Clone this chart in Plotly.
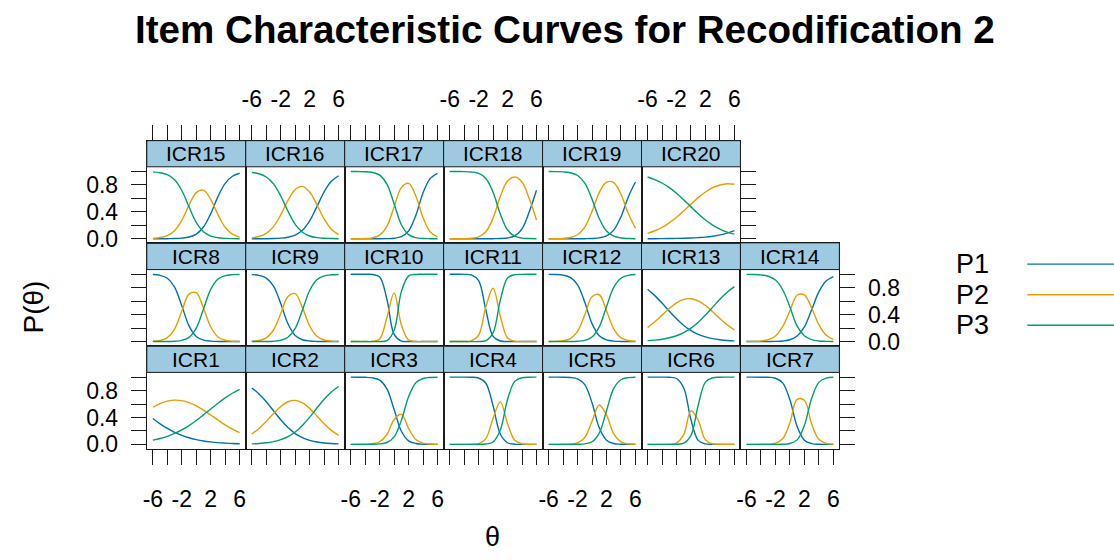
import plotly.graph_objects as go

# ---------------- data ----------------
theta = [-6, -5, -4, -3, -2, -1, 0, 1, 2, 3, 4, 5, 6]

ICR1_P1 = [.385, .306, .237, .180, .134, .098, .071, .051, .037, .026, .019, .013, .009]
ICR1_P2 = [.552, .607, .643, .658, .651, .622, .574, .510, .437, .362, .290, .227, .173]
ICR1_P3 = [.063, .087, .120, .162, .215, .280, .355, .439, .526, .612, .691, .760, .818]

ICR2_P1 = [.839, .750, .634, .500, .366, .250, .161, .100, .060, .036, .021, .012, .007]
ICR2_P2 = [.153, .236, .342, .458, .564, .634, .654, .618, .535, .423, .307, .208, .133]
ICR2_P3 = [.008, .014, .024, .042, .070, .116, .185, .282, .405, .541, .672, .780, .860]

ICR3_P1 = [1.0, .999, .997, .989, .954, .825, .518, .196, .053, .013, .003, .001, .000]
ICR3_P2 = [.000, .001, .003, .010, .039, .147, .370, .447, .238, .072, .018, .004, .001]
ICR3_P3 = [.000, .000, .000, .001, .007, .028, .112, .357, .709, .915, .979, .995, .999]

ICR4_P1 = [1.0, 1.0, 1.0, .998, .987, .909, .574, .154, .024, .003, .000, .000, .000]
ICR4_P2 = [.000, .000, .000, .002, .012, .086, .390, .632, .308, .060, .009, .001, .000]
ICR4_P3 = [.000, .000, .000, .000, .001, .005, .036, .214, .668, .937, .991, .999, 1.0]

ICR5_P1 = [1.0, 1.0, .999, .995, .975, .889, .618, .246, .062, .013, .003, .001, .000]
ICR5_P2 = [.000, .000, .001, .005, .023, .103, .343, .586, .438, .155, .036, .007, .002]
ICR5_P3 = [.000, .000, .000, .000, .002, .008, .039, .168, .500, .832, .961, .992, .998]

ICR6_P1 = [1.0, 1.0, 1.0, .998, .979, .839, .366, .060, .007, .001, .000, .000, .000]
ICR6_P2 = [.000, .000, .000, .002, .019, .144, .500, .358, .067, .008, .001, .000, .000]
ICR6_P3 = [.000, .000, .000, .000, .002, .017, .134, .582, .926, .991, .999, 1.0, 1.0]

ICR7_P1 = [1.0, 1.0, .999, .997, .983, .915, .664, .265, .062, .012, .002, .000, .000]
ICR7_P2 = [.000, .000, .001, .003, .017, .083, .323, .668, .657, .305, .076, .015, .003]
ICR7_P3 = [.000, .000, .000, .000, .000, .002, .013, .067, .281, .683, .922, .985, .997]

ICR8_P1 = [.996, .984, .941, .810, .532, .233, .075, .021, .006, .002, .000, .000, .000]
ICR8_P2 = [.004, .016, .058, .185, .451, .705, .726, .495, .217, .069, .020, .005, .001]
ICR8_P3 = [.000, .000, .001, .005, .017, .062, .199, .484, .777, .929, .980, .995, .999]

ICR9_P1 = [.995, .984, .944, .823, .565, .265, .091, .027, .008, .002, .000, .000, .000]
ICR9_P2 = [.005, .016, .055, .172, .416, .671, .713, .505, .232, .079, .024, .007, .002]
ICR9_P3 = [.000, .000, .001, .005, .019, .064, .196, .468, .760, .919, .976, .993, .998]

ICR10_P1 = [1.0, 1.0, 1.0, .997, .960, .629, .107, .008, .001, .000, .000, .000, .000]
ICR10_P2 = [.000, .000, .000, .003, .039, .357, .724, .249, .023, .002, .000, .000, .000]
ICR10_P3 = [.000, .000, .000, .000, .001, .014, .169, .743, .976, .998, 1.0, 1.0, 1.0]

ICR11_P1 = [1.0, 1.0, .999, .990, .905, .470, .077, .008, .001, .000, .000, .000, .000]
ICR11_P2 = [.000, .000, .001, .010, .094, .516, .793, .377, .054, .005, .001, .000, .000]
ICR11_P3 = [.000, .000, .000, .000, .001, .014, .130, .615, .945, .995, .999, 1.0, 1.0]

ICR12_P1 = [.999, .997, .988, .954, .844, .584, .267, .086, .024, .006, .002, .000, .000]
ICR12_P2 = [.001, .003, .012, .045, .151, .398, .666, .696, .459, .189, .057, .016, .004]
ICR12_P3 = [.000, .000, .000, .001, .005, .018, .067, .218, .517, .805, .941, .984, .996]

ICR13_P1 = [.777, .683, .572, .452, .338, .240, .164, .108, .070, .044, .028, .017, .011]
ICR13_P2 = [.209, .295, .393, .492, .575, .627, .637, .605, .536, .444, .343, .250, .173]
ICR13_P3 = [.014, .022, .035, .056, .087, .133, .199, .287, .394, .512, .629, .733, .816]

ICR14_P1 = [.000, .000, .000, .001, .003, .009, .027, .082, .219, .471, .738, .899, .966]
ICR14_P2 = [.001, .003, .009, .028, .083, .221, .458, .688, .695, .500, .253, .098, .033]
ICR14_P3 = [.999, .997, .991, .971, .914, .770, .515, .230, .086, .029, .009, .003, .001]

ICR15_P1 = [.000, .000, .001, .003, .010, .026, .070, .175, .374, .626, .824, .929, .974]
ICR15_P2 = [.006, .018, .047, .120, .273, .499, .686, .722, .586, .359, .171, .069, .025]
ICR15_P3 = [.994, .982, .952, .877, .717, .475, .244, .103, .040, .015, .005, .002, .001]

ICR16_P1 = [.000, .001, .001, .003, .009, .022, .053, .125, .265, .477, .698, .854, .937]
ICR16_P2 = [.014, .033, .081, .181, .355, .569, .733, .778, .694, .507, .295, .143, .062]
ICR16_P3 = [.986, .966, .918, .816, .636, .409, .214, .097, .041, .016, .007, .003, .001]

ICR17_P1 = [.000, .000, .000, .000, .000, .002, .008, .031, .116, .348, .684, .898, .973]
ICR17_P2 = [.000, .001, .003, .014, .054, .185, .475, .760, .823, .636, .312, .101, .027]
ICR17_P3 = [1.0, .999, .997, .986, .946, .813, .517, .209, .061, .016, .004, .001, .000]

ICR18_P1 = [.000, .000, .000, .000, .000, .000, .001, .003, .011, .043, .147, .400, .720]
ICR18_P2 = [.000, .001, .002, .008, .029, .103, .307, .629, .858, .919, .843, .597, .279]
ICR18_P3 = [1.0, .999, .998, .992, .971, .897, .692, .368, .131, .038, .010, .003, .001]

ICR19_P1 = [.000, .000, .000, .000, .000, .001, .004, .013, .042, .128, .327, .618, .843]
ICR19_P2 = [.001, .002, .006, .019, .060, .173, .407, .686, .843, .834, .661, .378, .156]
ICR19_P3 = [.999, .998, .994, .981, .940, .826, .589, .301, .115, .038, .012, .004, .001]

ICR20_P1 = [.001, .001, .002, .003, .005, .007, .011, .017, .025, .038, .057, .084, .122]
ICR20_P2 = [.081, .119, .169, .237, .319, .415, .515, .611, .695, .759, .799, .817, .810]
ICR20_P3 = [.918, .880, .829, .760, .676, .578, .474, .372, .280, .203, .144, .099, .068]

x_tick_vals = [-6, -4, -2, 0, 2, 4, 6]
x_tick_text = ["-6", "", "-2", "", "2", "", "6"]
y_tick_vals = [0, 0.2, 0.4, 0.6, 0.8, 1.0]
y_tick_text = ["0.0", "", "0.4", "", "0.8", ""]
categories = ["P1", "P2", "P3"]

# panel arrangement: rows top->bottom
panel_rows = [
    ["ICR15", "ICR16", "ICR17", "ICR18", "ICR19", "ICR20"],
    ["ICR8", "ICR9", "ICR10", "ICR11", "ICR12", "ICR13", "ICR14"],
    ["ICR1", "ICR2", "ICR3", "ICR4", "ICR5", "ICR6", "ICR7"],
]

series = {
    "ICR1": (ICR1_P1, ICR1_P2, ICR1_P3), "ICR2": (ICR2_P1, ICR2_P2, ICR2_P3),
    "ICR3": (ICR3_P1, ICR3_P2, ICR3_P3), "ICR4": (ICR4_P1, ICR4_P2, ICR4_P3),
    "ICR5": (ICR5_P1, ICR5_P2, ICR5_P3), "ICR6": (ICR6_P1, ICR6_P2, ICR6_P3),
    "ICR7": (ICR7_P1, ICR7_P2, ICR7_P3), "ICR8": (ICR8_P1, ICR8_P2, ICR8_P3),
    "ICR9": (ICR9_P1, ICR9_P2, ICR9_P3), "ICR10": (ICR10_P1, ICR10_P2, ICR10_P3),
    "ICR11": (ICR11_P1, ICR11_P2, ICR11_P3), "ICR12": (ICR12_P1, ICR12_P2, ICR12_P3),
    "ICR13": (ICR13_P1, ICR13_P2, ICR13_P3), "ICR14": (ICR14_P1, ICR14_P2, ICR14_P3),
    "ICR15": (ICR15_P1, ICR15_P2, ICR15_P3), "ICR16": (ICR16_P1, ICR16_P2, ICR16_P3),
    "ICR17": (ICR17_P1, ICR17_P2, ICR17_P3), "ICR18": (ICR18_P1, ICR18_P2, ICR18_P3),
    "ICR19": (ICR19_P1, ICR19_P2, ICR19_P3), "ICR20": (ICR20_P1, ICR20_P2, ICR20_P3),
}

# ---------------- styling / geometry ----------------
W, H = 1114, 560
FONT = "Liberation Sans, Arial, Helvetica, sans-serif"
COLORS = ["#0072B2", "#E69F00", "#009E73"]
STRIP = "#9ECAE1"
EDGE = "#1a1a1a"

LEFT, COLW = 143.3, 99.3
TOP, ROWH = 142.7, 104.3
STRIPH, PLOTH = 26.5, 77.8
XR = [-6.84, 6.84]
Y_LO, Y_HI = -0.07, 1.07
Y_TOP = Y_HI + STRIPH * (Y_HI - Y_LO) / PLOTH

fig = go.Figure()
layout = dict(shapes=[], annotations=[])

n = 0
for r, row in enumerate(panel_rows):
    ncols = len(row)
    for c, item in enumerate(row):
        n += 1
        xs = "" if n == 1 else str(n)
        xname, yname = "x" + xs, "y" + xs
        x0 = LEFT + COLW * c
        y0 = TOP + ROWH * r
        xdom = [x0 / W, (x0 + COLW) / W]
        ydom = [1 - (y0 + ROWH) / H, 1 - y0 / H]

        for k, vals in enumerate(series[item]):
            fig.add_trace(go.Scatter(
                x=theta, y=vals, mode="lines", xaxis=xname, yaxis=yname,
                line=dict(color=COLORS[k], width=1.4, shape="spline"),
                name=categories[k], showlegend=False, hoverinfo="skip"))

        xa = dict(domain=xdom, range=XR, anchor=yname, showgrid=False, zeroline=False,
                  showline=True, mirror=True, linecolor=EDGE, linewidth=1,
                  fixedrange=True, tickfont=dict(family=FONT, size=23, color="black"))
        if r == 0:
            xa.update(side="top", ticks="outside", ticklen=15, tickcolor=EDGE, tickwidth=1,
                      tickvals=x_tick_vals, ticktext=x_tick_text,
                      showticklabels=(c % 2 == 1), ticklabelstandoff=8)
        elif r == 2:
            xa.update(side="bottom", ticks="outside", ticklen=15, tickcolor=EDGE, tickwidth=1,
                      tickvals=x_tick_vals, ticktext=x_tick_text,
                      showticklabels=(c % 2 == 0), ticklabelstandoff=14)
        else:
            xa.update(ticks="", showticklabels=False)

        ya = dict(domain=ydom, range=[Y_LO, Y_TOP], anchor=xname, showgrid=False, zeroline=False,
                  showline=True, mirror=True, linecolor=EDGE, linewidth=1,
                  fixedrange=True, tickfont=dict(family=FONT, size=23, color="black"))
        if c == 0 or c == ncols - 1:
            ya.update(side="left" if c == 0 else "right", ticks="outside", ticklen=15,
                      tickcolor=EDGE, tickwidth=1, tickvals=y_tick_vals, ticktext=y_tick_text,
                      showticklabels=((c == 0 and r != 1) or (c == ncols - 1 and r == 1)),
                      ticklabelstandoff=8)
        else:
            ya.update(ticks="", showticklabels=False)

        layout["xaxis" + xs] = xa
        layout["yaxis" + xs] = ya

        layout["shapes"].append(dict(
            type="rect", xref=xname + " domain", x0=0, x1=1, yref=yname,
            y0=Y_HI, y1=Y_TOP, fillcolor=STRIP, line=dict(color=EDGE, width=1), layer="above"))
        layout["annotations"].append(dict(
            xref=xname + " domain", x=0.5, yref=yname, y=(Y_HI + Y_TOP) / 2,
            text=item, showarrow=False, xanchor="center", yanchor="middle",
            font=dict(family=FONT, size=21, color="black")))

# title and axis titles
layout["annotations"].append(dict(
    xref="paper", yref="paper", x=563 / W, y=1 - 30 / H, text="<b>Item Characteristic Curves for Recodification 2</b>",
    showarrow=False, xanchor="center", yanchor="middle", font=dict(family=FONT, size=38.6, color="black")))
layout["annotations"].append(dict(
    xref="paper", yref="paper", x=30 / W, y=1 - 311 / H, text="P(θ)", textangle=-90,
    showarrow=False, xanchor="center", yanchor="middle", font=dict(family=FONT, size=28, color="black")))
layout["annotations"].append(dict(
    xref="paper", yref="paper", x=490 / W, y=1 - 545 / H, text="θ",
    showarrow=False, xanchor="center", yanchor="middle", font=dict(family=FONT, size=27, color="black")))

# legend (text left, line right)
legend_y = [268, 299, 330]
for k, lab in enumerate(categories):
    layout["annotations"].append(dict(
        xref="paper", yref="paper", x=953 / W, y=1 - legend_y[k] / H, text=lab,
        showarrow=False, xanchor="left", yanchor="middle", font=dict(family=FONT, size=27, color="black")))
    layout["shapes"].append(dict(
        type="line", xref="paper", yref="paper", x0=1027 / W, x1=1.0,
        y0=1 - legend_y[k] / H, y1=1 - legend_y[k] / H, line=dict(color=COLORS[k], width=1.4)))

fig.update_layout(
    width=W, height=H, autosize=False,
    margin=dict(l=0, r=0, t=0, b=0),
    paper_bgcolor="white", plot_bgcolor="rgba(0,0,0,0)",
    showlegend=False, **layout)

# make the page exactly the size of the browser viewport (no body margin, no scroll)
fit_js = """
document.documentElement.style.margin='0';
document.documentElement.style.overflow='hidden';
document.body.style.margin='0';
document.body.style.overflow='hidden';
var gd = document.getElementById('{plot_id}');
var vw = window.innerWidth, vh = window.innerHeight;
if (vw > 0 && vh > 0) { Plotly.relayout(gd, {width: vw, height: vh}); }
"""

fig.write_html("out.html", config={"displayModeBar": False}, post_script=fit_js)
